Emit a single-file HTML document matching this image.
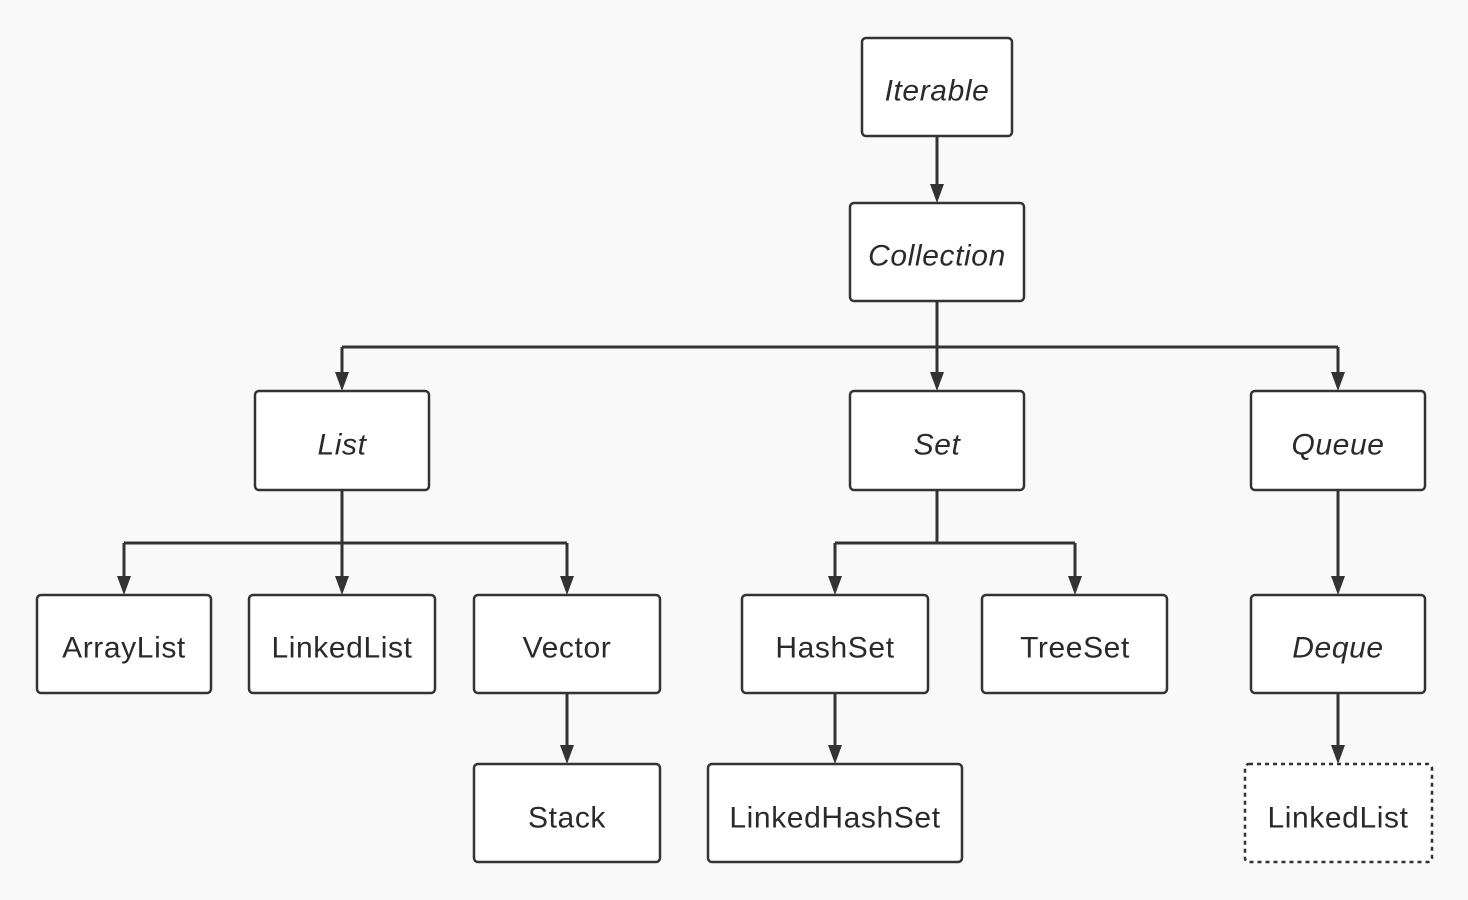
<!DOCTYPE html>
<html><head><meta charset="utf-8"><style>
html,body{margin:0;padding:0;background:#f9f9f9;}
svg{display:block}
text{font-family:"Liberation Sans",sans-serif;font-size:30px;letter-spacing:0.6px;fill:#2a2a2a;text-anchor:middle;dominant-baseline:central}
.i{font-style:italic}
rect{fill:#fff;stroke:#333;stroke-width:2.5}
.l{stroke:#333;stroke-width:3;fill:none}
.a{fill:#333}
</style></head><body>
<svg width="1468" height="900" viewBox="0 0 1468 900">
<g class="l">
<path d="M937 136 V186"/>
<path d="M937 301 V374"/>
<path d="M342 347 H1338"/>
<path d="M342 347 V374"/>
<path d="M1338 347 V374"/>
<path d="M342 490 V578"/>
<path d="M124 543 H567"/>
<path d="M124 543 V578"/>
<path d="M567 543 V578"/>
<path d="M937 490 V543 M835 543 H1075"/>
<path d="M835 543 V578"/>
<path d="M1075 543 V578"/>
<path d="M1338 490 V578"/>
<path d="M567 693 V747"/>
<path d="M835 693 V747"/>
<path d="M1338 693 V747"/>
</g>
<g class="a">
<path d="M930 184 h14 l-7 19z"/>
<path d="M930 372 h14 l-7 19z"/>
<path d="M335 372 h14 l-7 19z"/>
<path d="M1331 372 h14 l-7 19z"/>
<path d="M335 576 h14 l-7 19z"/>
<path d="M117 576 h14 l-7 19z"/>
<path d="M560 576 h14 l-7 19z"/>
<path d="M828 576 h14 l-7 19z"/>
<path d="M1068 576 h14 l-7 19z"/>
<path d="M1331 576 h14 l-7 19z"/>
<path d="M560 745 h14 l-7 19z"/>
<path d="M828 745 h14 l-7 19z"/>
<path d="M1331 745 h14 l-7 19z"/>
</g>
<rect x="862" y="38" width="150" height="98" rx="4"/><text class="i" x="937" y="91">Iterable</text>
<rect x="850" y="203" width="174" height="98" rx="4"/><text class="i" x="937" y="256">Collection</text>
<rect x="255" y="391" width="174" height="99" rx="4"/><text class="i" x="342" y="445">List</text>
<rect x="850" y="391" width="174" height="99" rx="4"/><text class="i" x="937" y="445">Set</text>
<rect x="1251" y="391" width="174" height="99" rx="4"/><text class="i" x="1338" y="445">Queue</text>
<rect x="37" y="595" width="174" height="98" rx="4"/><text x="124" y="648">ArrayList</text>
<rect x="249" y="595" width="186" height="98" rx="4"/><text x="342" y="648">LinkedList</text>
<rect x="474" y="595" width="186" height="98" rx="4"/><text x="567" y="648">Vector</text>
<rect x="742" y="595" width="186" height="98" rx="4"/><text x="835" y="648">HashSet</text>
<rect x="982" y="595" width="185" height="98" rx="4"/><text x="1075" y="648">TreeSet</text>
<rect x="1251" y="595" width="174" height="98" rx="4"/><text class="i" x="1338" y="648">Deque</text>
<rect x="474" y="764" width="186" height="98" rx="4"/><text x="567" y="818">Stack</text>
<rect x="708" y="764" width="254" height="98" rx="4"/><text x="835" y="818">LinkedHashSet</text>
<rect x="1245" y="764" width="187" height="98" rx="4" style="stroke-dasharray:4 4"/><text x="1338" y="818">LinkedList</text>
</svg>
</body></html>
